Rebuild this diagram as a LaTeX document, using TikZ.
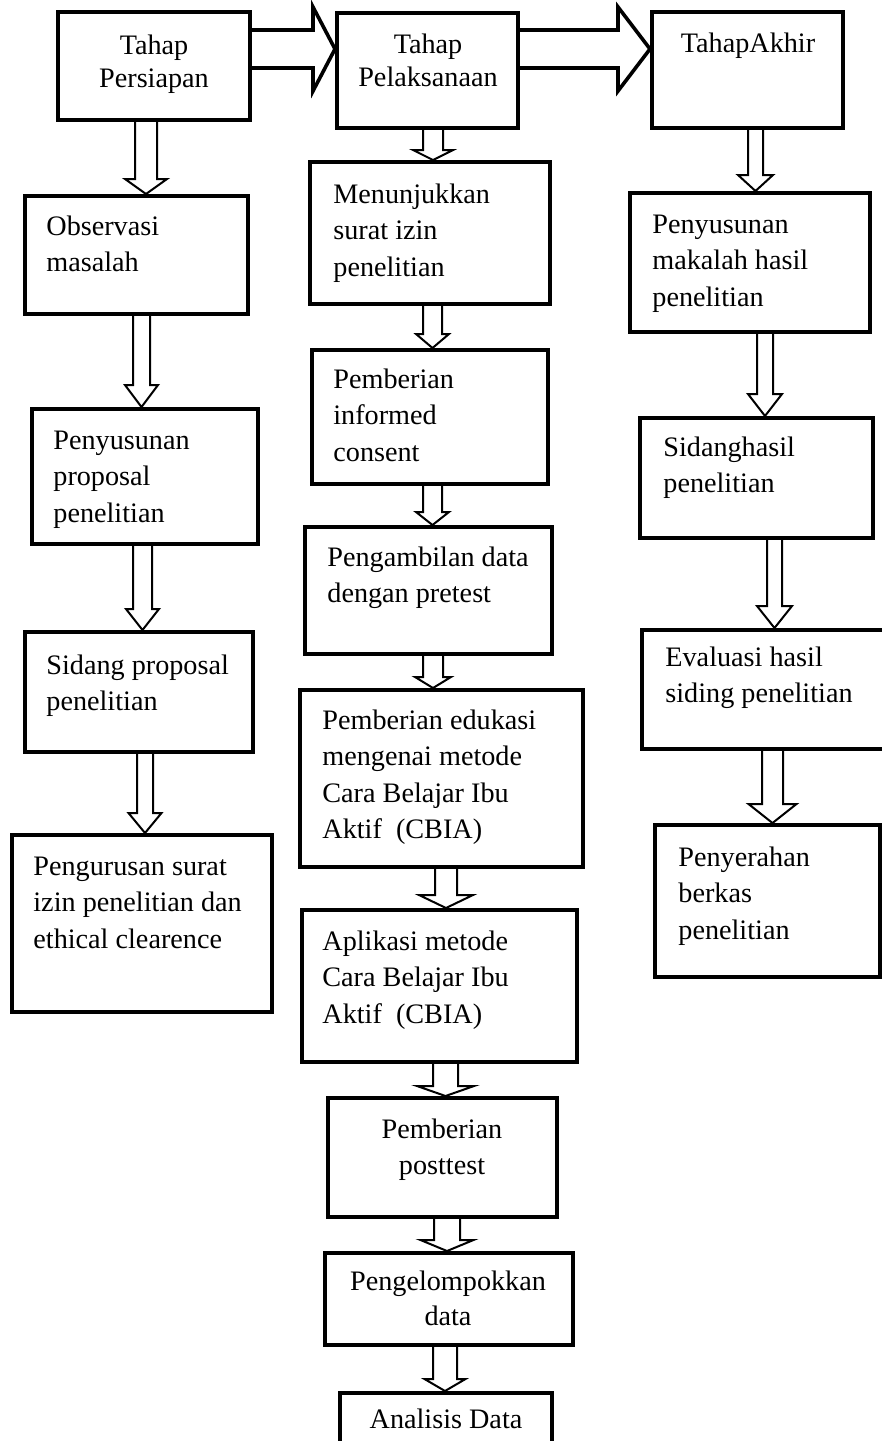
\documentclass[tikz,border=0pt]{standalone}
\usepackage{fontspec}
\setmainfont{Liberation Serif}
\usetikzlibrary{fit,calc}

\tikzset{
  stagebox/.style={draw, line width=2pt, inner sep=0pt, fit={#1}},
  stagetext/.style={inner sep=0pt, align=left, anchor=base west, font=\fontsize{14.1pt}{18.25pt}\selectfont},
  headtext/.style={inner sep=0pt, align=center, anchor=base, font=\fontsize{14.1pt}{16.5pt}\selectfont},
  downarrow/.style args={#1/#2/#3}{line width=1pt, line join=miter,
    to path={let \p1=(\tikztostart), \p2=(\tikztotarget) in
      (\x1-#1,\y1) -- (\x1-#1,\y2+#3) -- (\x1-#2,\y2+#3) -- (\x1,\y2)
      -- (\x1+#2,\y2+#3) -- (\x1+#1,\y2+#3) -- (\x1+#1,\y1)}},
  rightarrow/.style={line width=1.8pt, line join=miter,
    to path={let \p1=(\tikztostart), \p2=(\tikztotarget) in
      (\x1,\y1+9.5pt) -- (\x2-#1,\y1+9.5pt) -- (\x2-#1,\y1+21pt) -- (\x2,\y1)
      -- (\x2-#1,\y1-21pt) -- (\x2-#1,\y1-9.5pt) -- (\x1,\y1-9.5pt)}}
}

\begin{document}
\begin{tikzpicture}[x=0.5pt, y=-0.5pt]
    \useasboundingbox (0,0) rectangle (882,1441);

    \node[stagebox={(58,12) (250,120)}] (persiapan) {};
    \node[stagebox={(337,13) (518,128)}] (pelaksanaan) {};
    \node[stagebox={(652,12) (843,128)}] (akhir) {};

    \node[headtext] at (154,87) {Tahap\\Persiapan};
    \node[headtext] at (428,86) {Tahap\\Pelaksanaan};
    \node[headtext] at (748,52) {TahapAkhir};

    \node[stagebox={(25,196) (248,314)}] (observasi) {};
    \node[stagebox={(32,409) (258,544)}] (proposal) {};
    \node[stagebox={(25,632) (253,752)}] (sidangProposal) {};
    \node[stagebox={(12,835) (272,1012)}] (pengurusan) {};

    \node[stagetext] at (46,271.5) {Observasi\\masalah};
    \node[stagetext] at (53,522) {Penyusunan\\proposal\\penelitian};
    \node[stagetext] at (46,710.5) {Sidang proposal\\penelitian};
    \node[stagetext] at (33,948) {Pengurusan surat\\izin penelitian dan\\ethical clearence};

    \node[stagebox={(310,162) (550,304)}] (menunjukkan) {};
    \node[stagebox={(312,350) (548,484)}] (consent) {};
    \node[stagebox={(305,527) (552,654)}] (pretest) {};
    \node[stagebox={(300,690) (583,867)}] (edukasi) {};
    \node[stagebox={(302,910) (577,1062)}] (aplikasi) {};
    \node[stagebox={(328,1098) (557,1217)}] (posttest) {};
    \node[stagebox={(325,1253) (573,1345)}] (kelompok) {};
    \node[stagebox={(340,1393) (552,1455)}] (analisis) {};

    \node[stagetext] at (333,276) {Menunjukkan\\surat izin\\penelitian};
    \node[stagetext] at (333,461) {Pemberian\\informed\\consent};
    \node[stagetext] at (327,602.5) {Pengambilan data\\dengan pretest};
    \node[stagetext] at (322,838.5) {Pemberian edukasi\\mengenai metode\\Cara Belajar Ibu\\Aktif~ (CBIA)};
    \node[stagetext] at (322,1023) {Aplikasi metode\\Cara Belajar Ibu\\Aktif~ (CBIA)};
    \node[headtext, font=\fontsize{14.1pt}{18.25pt}\selectfont] at (442,1174.5) {Pemberian\\posttest};
    \node[headtext, font=\fontsize{14.1pt}{17.5pt}\selectfont] at (448,1325) {Pengelompokkan\\data};
    \node[headtext] at (446,1428) {Analisis Data};

    \node[stagebox={(630,193) (870,332)}] (makalah) {};
    \node[stagebox={(640,418) (873,538)}] (sidangHasil) {};
    \node[stagebox={(642,630) (892,749)}] (evaluasi) {};
    \node[stagebox={(655,825) (880,977)}] (penyerahan) {};

    \node[stagetext] at (652,306) {Penyusunan\\makalah hasil\\penelitian};
    \node[stagetext] at (663,492.5) {Sidanghasil\\penelitian};
    \node[stagetext] at (665,702.5) {Evaluasi hasil\\siding penelitian};
    \node[stagetext] at (678,939) {Penyerahan\\berkas\\penelitian};

    \draw[rightarrow=11pt] ([yshift=8.5pt]persiapan.east) to (pelaksanaan.west);
    \draw[rightarrow=16pt] ([yshift=10.75pt]pelaksanaan.east) to (akhir.west);

    \draw[downarrow=5.5pt/10.5pt/7.5pt] ([xshift=-4pt]persiapan.south) to (observasi.north);
    \draw[downarrow=4.25pt/8.25pt/11pt] ([xshift=2.5pt]observasi.south) to (proposal.north);
    \draw[downarrow=4.75pt/8.25pt/10.5pt] ([xshift=-1.25pt]proposal.south) to (sidangProposal.north);
    \draw[downarrow=4pt/8.25pt/10pt] ([xshift=3pt]sidangProposal.south) to (pengurusan.north);

    \draw[downarrow=5pt/10pt/5pt] ([xshift=2.75pt]pelaksanaan.south) to (menunjukkan.north);
    \draw[downarrow=4.75pt/8.25pt/7pt] ([xshift=1.25pt]menunjukkan.south) to (consent.north);
    \draw[downarrow=4.75pt/8.25pt/6.5pt] ([xshift=1.25pt]consent.south) to (pretest.north);
    \draw[downarrow=5pt/9pt/5.5pt] ([xshift=2.25pt]pretest.south) to (edukasi.north);
    \draw[downarrow=5.5pt/13.5pt/6.5pt] ([xshift=2.25pt]edukasi.south) to (aplikasi.north);
    \draw[downarrow=6.25pt/14.25pt/5pt] ([xshift=3pt]aplikasi.south) to (posttest.north);
    \draw[downarrow=6.5pt/13.25pt/5.5pt] ([xshift=2.25pt]posttest.south) to (kelompok.north);
    \draw[downarrow=6pt/10.25pt/6pt] ([xshift=-2pt]kelompok.south) to (analisis.north);

    \draw[downarrow=3.75pt/8.75pt/8pt] ([xshift=4pt]akhir.south) to (makalah.north);
    \draw[downarrow=4pt/8.5pt/11pt] ([xshift=7.5pt]makalah.south) to (sidangHasil.north);
    \draw[downarrow=3.75pt/8.75pt/11pt] ([xshift=9pt]sidangHasil.south) to (evaluasi.north);
    \draw[downarrow=5.25pt/12pt/9.5pt] ([xshift=2.75pt]evaluasi.south) to (penyerahan.north);
\end{tikzpicture}
\end{document}
